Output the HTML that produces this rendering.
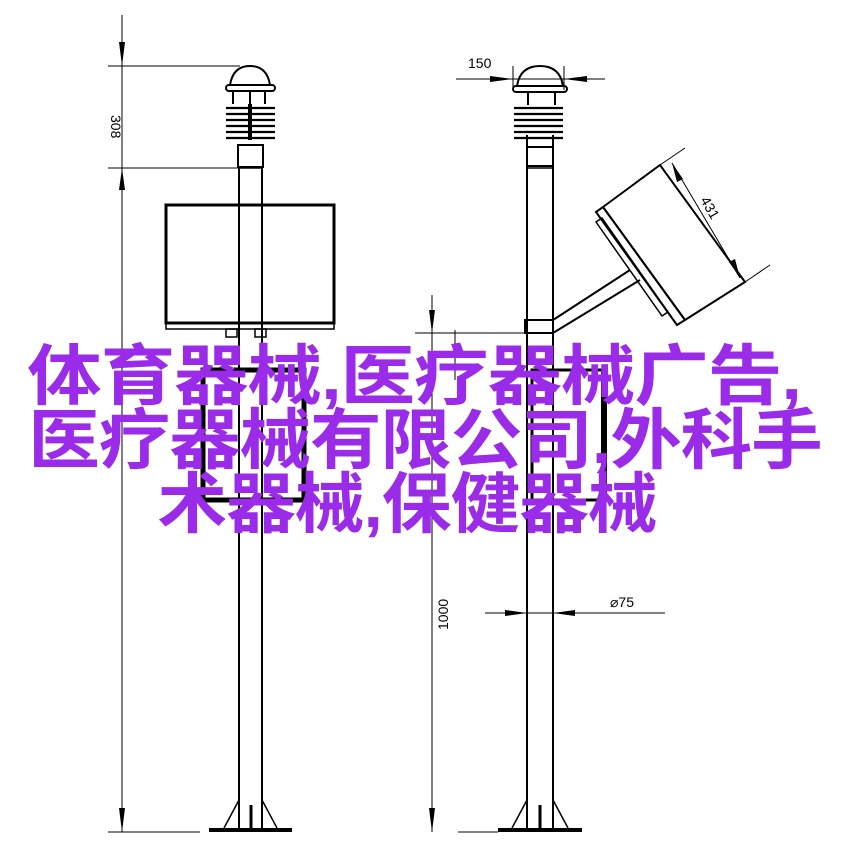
<!DOCTYPE html>
<html><head><meta charset="utf-8"><style>
html,body{margin:0;padding:0;background:#fff;}
.t{position:absolute;left:0;width:854px;text-align:center;color:#9a2be8;font-family:"Liberation Sans","Noto Sans CJK SC",sans-serif;font-weight:bold;font-size:66px;line-height:62px;white-space:nowrap;letter-spacing:-1px;transform-origin:center}
</style></head><body>
<div style="position:relative;width:854px;height:864px;overflow:hidden">
<svg width="854" height="864" style="position:absolute;left:0;top:0" font-family="Liberation Sans, sans-serif">
<g stroke="#000" fill="none">
<line x1="122" y1="15" x2="122" y2="832" stroke-width="1"/>
<line x1="108" y1="66" x2="240" y2="66" stroke-width="1"/>
<line x1="108" y1="168" x2="240" y2="168" stroke-width="1"/>
<line x1="108" y1="832" x2="200" y2="832" stroke-width="1"/>
<line x1="239" y1="168" x2="239" y2="830" stroke-width="2"/>
<line x1="262" y1="168" x2="262" y2="830" stroke-width="2"/>
<line x1="239" y1="168" x2="262" y2="168" stroke-width="1.5"/>
<line x1="251" y1="805" x2="251" y2="830" stroke-width="3"/>
<line x1="239" y1="800" x2="224" y2="828" stroke-width="1.5"/>
<line x1="262" y1="800" x2="277" y2="828" stroke-width="1.5"/>
<line x1="209" y1="830" x2="292" y2="830" stroke-width="4"/>
<path d="M230 85 Q233 66 250 66 Q267 66 270 85" stroke-width="2"/>
<rect x="226" y="85" width="49" height="6" rx="3" stroke-width="2"/>
<line x1="233" y1="91" x2="233" y2="104" stroke-width="2"/>
<line x1="250" y1="91" x2="250" y2="104" stroke-width="2"/>
<line x1="265" y1="91" x2="265" y2="104" stroke-width="2"/>
<g stroke-width="2.2"><line x1="226" y1="108" x2="275" y2="108"/><line x1="226" y1="114" x2="275" y2="114"/><line x1="226" y1="120" x2="275" y2="120"/><line x1="226" y1="126" x2="275" y2="126"/><line x1="226" y1="132" x2="275" y2="132"/><line x1="226" y1="138" x2="275" y2="138"/></g>
<line x1="250" y1="104" x2="250" y2="140" stroke-width="4"/>
<rect x="238" y="145" width="25" height="22" stroke-width="2"/>
<rect x="166" y="205" width="168" height="118" stroke-width="3"/>
<rect x="166" y="323" width="168" height="6" stroke-width="1.5"/>
<rect x="226" y="329" width="11" height="8" stroke-width="1.5"/>
<rect x="255" y="329" width="11" height="8" stroke-width="1.5"/>
<rect x="203" y="370" width="101" height="130" stroke-width="5"/>
<line x1="527" y1="135" x2="527" y2="830" stroke-width="2"/>
<line x1="553" y1="135" x2="553" y2="830" stroke-width="2"/>
<line x1="527" y1="168" x2="553" y2="168" stroke-width="1.5"/>
<rect x="525" y="320" width="28" height="13" stroke-width="2"/>
<line x1="540" y1="805" x2="540" y2="830" stroke-width="3"/>
<line x1="527" y1="800" x2="512" y2="828" stroke-width="1.5"/>
<line x1="553" y1="800" x2="568" y2="828" stroke-width="1.5"/>
<line x1="498" y1="830" x2="582" y2="830" stroke-width="4"/>
<path d="M517 86 Q520 66 540 66 Q560 66 563 86" stroke-width="2"/>
<rect x="513" y="86" width="54" height="6" rx="3" stroke-width="2"/>
<line x1="528" y1="92" x2="528" y2="105" stroke-width="2"/>
<line x1="555" y1="92" x2="555" y2="105" stroke-width="2"/>
<g stroke-width="2.2"><line x1="514" y1="108" x2="563" y2="108"/><line x1="514" y1="114" x2="563" y2="114"/><line x1="514" y1="120" x2="563" y2="120"/><line x1="514" y1="126" x2="563" y2="126"/><line x1="514" y1="132" x2="563" y2="132"/><line x1="514" y1="138" x2="563" y2="138"/></g>
<rect x="527" y="147" width="26" height="19" stroke-width="2"/>
<line x1="456" y1="79" x2="605" y2="79" stroke-width="1"/>
<line x1="513" y1="66" x2="513" y2="90" stroke-width="1"/>
<line x1="564" y1="66" x2="564" y2="90" stroke-width="1"/>
<line x1="553" y1="320" x2="630" y2="270" stroke-width="2"/>
<line x1="553" y1="333" x2="640" y2="280" stroke-width="2"/>
<polygon points="596,212 603,207 685,320 677,325" stroke-width="2"/>
<polygon points="603,207 660,165 745,282 685,320" stroke-width="2"/>
<polygon points="596,222 602,218 668,312 662,316" stroke-width="1.5"/>
<line x1="660" y1="165" x2="685" y2="148" stroke-width="1"/>
<line x1="745" y1="282" x2="770" y2="265" stroke-width="1"/>
<line x1="672" y1="163" x2="740" y2="278" stroke-width="1"/>
<rect x="532" y="370" width="72" height="130" stroke-width="3"/>
<line x1="604" y1="370" x2="604" y2="500" stroke-width="6"/>
<line x1="432" y1="295" x2="432" y2="832" stroke-width="1"/>
<line x1="415" y1="333" x2="525" y2="333" stroke-width="1"/>
<line x1="455" y1="330" x2="455" y2="380" stroke-width="1"/>
<line x1="458" y1="832" x2="498" y2="832" stroke-width="1"/>
<line x1="485" y1="613" x2="665" y2="613" stroke-width="1"/>
</g>
<g fill="#000">
<polygon points="119,42 125,42 122,66"/>
<polygon points="119,190 125,190 122,168"/>
<polygon points="119,808 125,808 122,832"/>
<polygon points="429,310 435,310 432,333"/>
<polygon points="429,808 435,808 432,832"/>
<polygon points="490,76 490,82 513,79"/>
<polygon points="587,76 587,82 564,79"/>
<polygon points="505,610 505,616 527,613"/>
<polygon points="575,610 575,616 553,613"/>
<polygon points="672,163 677,182 683,179"/>
<polygon points="740,278 729,262 735,259"/>
</g>
<g font-size="14" fill="#000">
<text x="468" y="68">150</text>
<text x="610" y="607">⌀75</text>
<text transform="translate(111,115) rotate(90)">308</text>
<text transform="translate(448,630) rotate(-90)">1000</text>
<text transform="translate(700,200) rotate(60)">431</text>
</g>
</svg>
<div class="t" style="top:345px;left:-13px;transform:scaleX(1.13)">体育器械,医疗器械广告,</div>
<div class="t" style="top:409px;left:-2px;transform:scaleX(1.083)">医疗器械有限公司,外科手</div>
<div class="t" style="top:473px;left:-20px;transform:scaleX(1.057)">术器械,保健器械</div>
</div>
</body></html>
